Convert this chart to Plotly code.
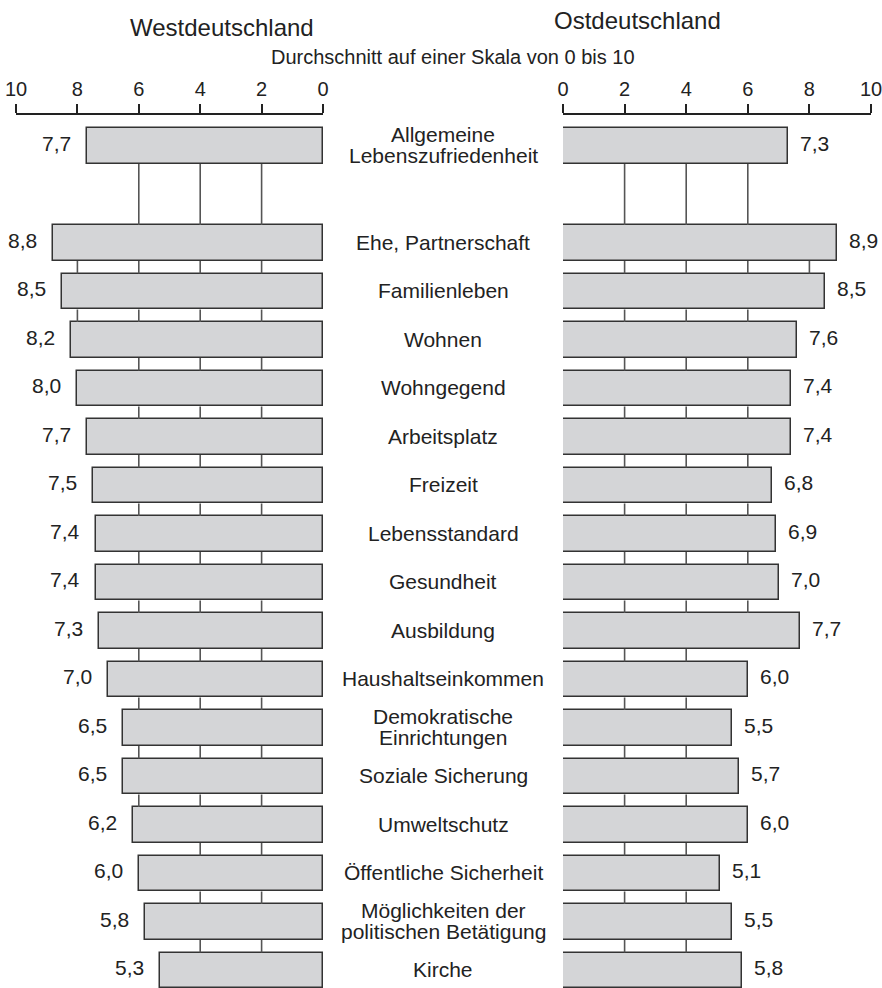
import plotly.graph_objects as go

categories = [
    "Allgemeine<br>Lebenszufriedenheit", "Ehe, Partnerschaft", "Familienleben", "Wohnen",
    "Wohngegend", "Arbeitsplatz", "Freizeit", "Lebensstandard", "Gesundheit",
    "Ausbildung", "Haushaltseinkommen", "Demokratische<br>Einrichtungen",
    "Soziale Sicherung", "Umweltschutz", "Öffentliche Sicherheit",
    "Möglichkeiten der<br>politischen Betätigung", "Kirche",
]
positions = [0, 2, 3, 4, 5, 6, 7, 8, 9, 10, 11, 12, 13, 14, 15, 16, 17]
west = [7.7, 8.8, 8.5, 8.2, 8.0, 7.7, 7.5, 7.4, 7.4, 7.3, 7.0, 6.5, 6.5, 6.2, 6.0, 5.8, 5.3]
ost = [7.3, 8.9, 8.5, 7.6, 7.4, 7.4, 6.8, 6.9, 7.0, 7.7, 6.0, 5.5, 5.7, 6.0, 5.1, 5.5, 5.8]
tick_vals = [0, 2, 4, 6, 8, 10]
grid_vals = [2, 4, 6, 8]

W, H = 882, 988
TOP, BOT = 115, 988           # pixel rows of plot top / bottom
BW = 0.742
FONT = "Liberation Sans, Arial, sans-serif"
TXT = "#222222"
BAR_FILL = "#d4d5d7"
BAR_LINE = "#333333"
GRID = "#555555"


def fx(px):
    return px / W


def fy(py):
    return (BOT - py) / (BOT - TOP)


def fmt(v):
    return f"{v:.1f}".replace(".", ",")


fig = go.Figure()

for vals, xa in ((west, "x"), (ost, "x2")):
    gx, gy = [], []
    for i in range(len(vals) - 1):
        lo = min(vals[i], vals[i + 1])
        for g in grid_vals:
            if lo > g:
                gx += [g, g, None]
                gy += [positions[i] + BW / 2, positions[i + 1] - BW / 2, None]
    fig.add_trace(go.Scatter(x=gx, y=gy, mode="lines", xaxis=xa, yaxis="y",
                             line=dict(color=GRID, width=1.6), hoverinfo="skip",
                             showlegend=False))
    fig.add_trace(go.Bar(x=vals, y=positions, orientation="h", width=BW,
                         xaxis=xa, yaxis="y",
                         marker=dict(color=BAR_FILL, line=dict(color=BAR_LINE, width=1.5)),
                         showlegend=False))

LBL = dict(size=21, color=TXT, family=FONT)
annotations = []
for p, v in zip(positions, west):
    annotations.append(dict(x=v, y=p, xref="x", yref="y", text=fmt(v), showarrow=False,
                            xanchor="right", yanchor="middle", xshift=-14, yshift=3,
                            font=LBL))
for p, v in zip(positions, ost):
    annotations.append(dict(x=v, y=p, xref="x2", yref="y", text=fmt(v), showarrow=False,
                            xanchor="left", yanchor="middle", xshift=10, yshift=3,
                            font=LBL))
for p, c in zip(positions, categories):
    lines = c.split("<br>")
    n = len(lines)
    for k, line in enumerate(lines):
        annotations.append(dict(x=fx(443), y=p, xref="paper", yref="y", text=line,
                                showarrow=False, xanchor="center", yanchor="middle",
                                yshift=((n - 1) / 2 - k) * 21 + 1, font=LBL))

annotations.append(dict(x=fx(222), y=fy(28), xref="paper", yref="paper",
                        text="Westdeutschland", showarrow=False, xanchor="center",
                        yanchor="middle", font=dict(size=24, color=TXT, family=FONT)))
annotations.append(dict(x=fx(637), y=fy(21), xref="paper", yref="paper",
                        text="Ostdeutschland", showarrow=False, xanchor="center",
                        yanchor="middle", font=dict(size=24, color=TXT, family=FONT)))
annotations.append(dict(x=fx(453), y=fy(57), xref="paper", yref="paper",
                        text="Durchschnitt auf einer Skala von 0 bis 10", showarrow=False,
                        xanchor="center", yanchor="middle",
                        font=dict(size=20, color=TXT, family=FONT)))

axis_common = dict(side="top", tickvals=tick_vals, ticktext=[str(t) for t in tick_vals],
                   showgrid=False, zeroline=False, showline=True, linecolor="#222222",
                   linewidth=2, ticks="outside", ticklen=9, tickwidth=2, tickcolor="#222222",
                   tickfont=dict(size=20, color=TXT, family=FONT), fixedrange=True,
                   automargin=False, ticklabeloverflow="allow")

pos_min = -(146 - TOP) / 48.5
pos_max = (BOT - 146) / 48.5

fig.update_layout(
    width=W, height=H, autosize=False,
    margin=dict(l=0, r=0, t=TOP, b=H - BOT, pad=0, autoexpand=False),
    paper_bgcolor="white", plot_bgcolor="white",
    bargap=0,
    xaxis=dict(domain=[fx(16), fx(323)], range=[10, 0], anchor="y", **axis_common),
    xaxis2=dict(domain=[fx(563), fx(871)], range=[0, 10], anchor="y", **axis_common),
    yaxis=dict(domain=[0, 1], range=[pos_max, pos_min], visible=False, fixedrange=True,
               automargin=False),
    annotations=annotations,
    font=dict(family=FONT, color=TXT),
    hovermode=False,
)

fig.write_html("out.html", config={"responsive": False, "displayModeBar": False},
               post_script="document.body.style.margin='0';document.body.style.overflow='hidden';")
